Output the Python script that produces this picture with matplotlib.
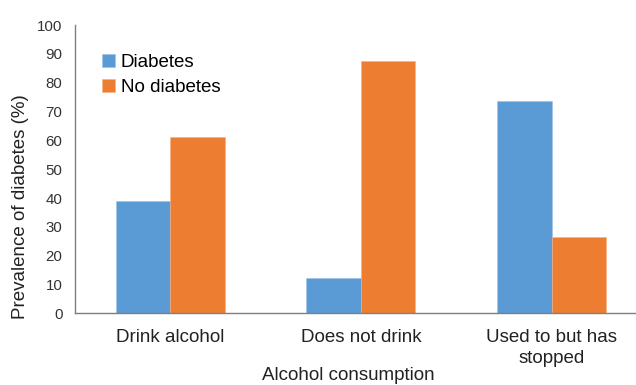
import matplotlib
import numpy as np

matplotlib.use("Agg")
import matplotlib.pyplot as plt

plt.rcParams["font.family"] = ["Liberation Sans", "DejaVu Sans"]

categories = ["Drink alcohol", "Does not drink", "Used to but has\nstopped"]
diabetes = [39.0, 12.4, 73.5]
no_diabetes = [61.0, 87.6, 26.5]
series_names = ["Diabetes", "No diabetes"]
colors = ["#5B9BD5", "#ED7D31"]

fig = plt.figure(figsize=(6.36, 3.85), dpi=100)
ax = fig.add_axes([0.118, 0.186, 0.899, 0.749])

x = np.arange(len(categories))
width = 0.286
ax.bar(x - width / 2, diabetes, width, color=colors[0], label=series_names[0],
       edgecolor="#9DC3E6", linewidth=0.4)
ax.bar(x + width / 2, no_diabetes, width, color=colors[1], label=series_names[1],
       edgecolor="#F4B183", linewidth=0.4)

ax.set_xlim(-0.5, len(categories) - 0.5)
ax.set_ylim(0, 100)
ax.set_yticks(np.arange(0, 101, 10))
ax.set_xticks(x)
ax.set_xticklabels(categories, fontsize=13.5, color="#222222", linespacing=1.3)
ax.tick_params(axis="y", length=0, pad=9, labelsize=10.8, labelcolor="#333333")
ax.tick_params(axis="x", length=0, pad=11)

for side in ["top", "right"]:
    ax.spines[side].set_visible(False)
for side in ["left", "bottom"]:
    ax.spines[side].set_color("#7F7F7F")
    ax.spines[side].set_linewidth(1.0)

ax.set_ylabel("Prevalence of diabetes (%)", fontsize=13.5, color="#222222", labelpad=6)
ax.yaxis.label.set_y(0.37)
fig.text(348.5 / 636, 0.003, "Alcohol consumption", fontsize=13.5,
         color="#222222", ha="center", va="bottom")

ax.legend(loc="upper left", bbox_to_anchor=(102 / 636, 1 - 54 / 385),
          bbox_transform=fig.transFigure, frameon=False, fontsize=13.5,
          handlelength=0.7, handleheight=0.7, handletextpad=0.3,
          labelspacing=0.4, borderpad=0, borderaxespad=0)

fig.savefig("out.png", dpi=100)
plt.close(fig)
